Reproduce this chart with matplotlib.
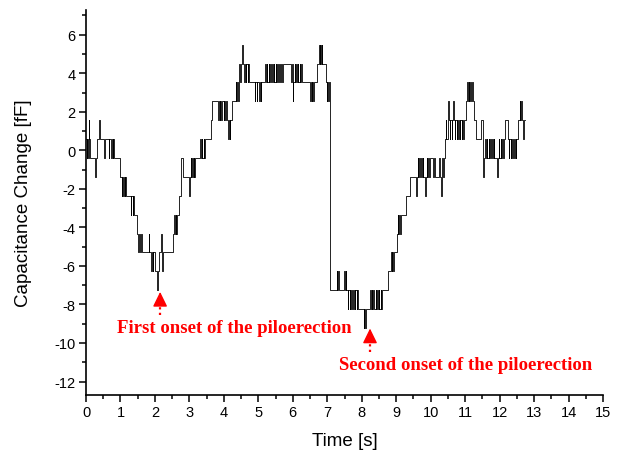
import numpy as np
import matplotlib
matplotlib.use("Agg")
import matplotlib.pyplot as plt
from matplotlib.ticker import MultipleLocator

plt.rcParams['font.family'] = ['Liberation Sans', 'DejaVu Sans']
plt.rcParams['axes.unicode_minus'] = False

# capacitance trace: (start time [s], level [fF]) of each step
seg1 = [(0.00, 0.58), (0.02, -0.40), (0.04, 0.58), (0.06, -0.40), (0.08, 1.56), (0.10, 0.58),
        (0.13, -0.40), (0.27, -1.38), (0.29, -0.40), (0.31, 0.58), (0.39, 1.56), (0.41, 0.58),
        (0.53, -0.40), (0.55, 0.58), (0.66, -0.40), (0.68, 0.58), (0.73, -0.40), (0.745, 0.58),
        (0.78, -0.40), (0.795, 0.58), (0.82, -0.40)]

seg2 = [(0.99, -1.38), (1.03, -2.36), (1.045, -1.38), (1.08, -2.36), (1.095, -1.38),
        (1.13, -2.36), (1.145, -1.38), (1.17, -2.36), (1.30, -3.34), (1.315, -2.36),
        (1.35, -3.34), (1.365, -2.36), (1.39, -3.34), (1.49, -4.32), (1.52, -5.30),
        (1.535, -4.32), (1.57, -5.30), (1.585, -4.32), (1.62, -5.30), (1.82, -4.32),
        (1.84, -5.30), (1.89, -6.28), (1.905, -5.30), (1.94, -6.28), (1.955, -5.30),
        (1.99, -6.28), (2.07, -7.26), (2.10, -6.28), (2.12, -5.30), (2.19, -4.32),
        (2.205, -6.28), (2.22, -5.30)]

seg3 = [(2.53, -4.32), (2.56, -3.34), (2.575, -4.32), (2.60, -3.34), (2.615, -4.32),
        (2.64, -3.34), (2.71, -2.36), (2.77, -0.40), (2.80, -1.38), (2.99, -2.36),
        (3.01, -1.38), (3.04, -0.40), (3.055, -1.38), (3.08, -0.40), (3.095, -1.38),
        (3.12, -0.40), (3.135, -1.38), (3.16, -0.40), (3.31, 0.58), (3.325, -0.40),
        (3.36, 0.58), (3.375, -0.40), (3.41, 0.58), (3.425, -0.40), (3.46, 0.58),
        (3.63, 1.56), (3.67, 2.54), (3.82, 1.56), (3.85, 2.54), (3.88, 1.56),
        (3.895, 2.54), (3.93, 1.56), (3.945, 2.54), (3.99, 1.56), (4.005, 2.54),
        (4.04, 1.56), (4.055, 2.54), (4.09, 1.56), (4.12, 0.58), (4.135, 1.56),
        (4.17, 0.58), (4.185, 1.56), (4.23, 2.54), (4.35, 3.52), (4.365, 2.54),
        (4.39, 3.52), (4.405, 2.54), (4.43, 3.52), (4.45, 4.50), (4.48, 3.52),
        (4.495, 4.50), (4.53, 5.48), (4.55, 4.50)]

seg4 = [(4.59, 3.52), (4.605, 4.50), (4.64, 3.52), (4.655, 4.50), (4.69, 3.52),
        (4.705, 4.50), (4.74, 3.52), (4.89, 2.54), (4.905, 3.52), (4.95, 2.54),
        (4.965, 3.52), (5.02, 2.54), (5.035, 3.52), (5.07, 2.54), (5.085, 3.52),
        (5.20, 4.50), (5.215, 3.52), (5.25, 4.50), (5.265, 3.52), (5.30, 4.50),
        (5.315, 3.52), (5.35, 4.50), (5.365, 3.52), (5.40, 4.50), (5.415, 3.52),
        (5.45, 4.50), (5.465, 3.52), (5.50, 4.50), (5.515, 3.52), (5.55, 4.50),
        (5.565, 3.52), (5.60, 4.50), (5.615, 3.52), (5.66, 4.50), (5.675, 3.52),
        (5.72, 4.50), (5.95, 3.52), (5.97, 4.50), (6.00, 2.54), (6.02, 3.52),
        (6.05, 4.50), (6.065, 3.52), (6.10, 4.50), (6.115, 3.52), (6.15, 4.50),
        (6.165, 3.52), (6.20, 4.50), (6.215, 3.52), (6.25, 4.50), (6.265, 3.52),
        (6.50, 2.54), (6.515, 3.52), (6.55, 2.54), (6.565, 3.52), (6.60, 2.54),
        (6.615, 3.52), (6.70, 4.50), (6.76, 5.48), (6.775, 4.50), (6.80, 5.48),
        (6.815, 4.50), (6.84, 5.48), (6.855, 4.50), (6.95, 3.52), (6.99, 2.54),
        (7.005, 3.52), (7.03, 2.54), (7.045, 3.52), (7.07, 2.54)]

seg5 = [(7.09, -7.26), (7.27, -6.28), (7.29, -7.26), (7.31, -6.28), (7.33, -7.26),
        (7.48, -6.28), (7.50, -7.26), (7.53, -6.28), (7.55, -7.26), (7.60, -8.24),
        (7.615, -7.26), (7.65, -8.24), (7.665, -7.26), (7.70, -8.24), (7.715, -7.26),
        (7.75, -8.24), (7.765, -7.26), (7.80, -8.24), (7.815, -7.26), (7.85, -8.24),
        (7.865, -7.26), (7.90, -8.24), (8.06, -9.22), (8.08, -8.24), (8.10, -9.22),
        (8.13, -8.24), (8.24, -7.26), (8.255, -8.24), (8.29, -7.26), (8.305, -8.24),
        (8.34, -7.26), (8.355, -8.24), (8.40, -7.26), (8.415, -8.24), (8.45, -7.26),
        (8.465, -8.24), (8.50, -7.26), (8.515, -8.24), (8.55, -7.26), (8.565, -8.24),
        (8.60, -7.26)]

seg6 = [(8.77, -6.28), (8.85, -5.30), (8.865, -6.28), (8.89, -5.30), (8.905, -6.28),
        (8.93, -5.30), (9.01, -4.32), (9.05, -3.34), (9.065, -4.32), (9.09, -3.34),
        (9.105, -4.32), (9.13, -3.34), (9.27, -2.36), (9.40, -1.38), (9.58, -2.36),
        (9.60, -1.38), (9.62, -0.40), (9.635, -1.38), (9.67, -0.40), (9.685, -1.38),
        (9.72, -0.40), (9.735, -1.38), (9.77, -0.40), (9.785, -1.38), (9.84, -2.36),
        (9.86, -1.38), (9.88, -0.40), (9.895, -1.38), (9.93, -0.40), (9.945, -1.38),
        (9.98, -0.40), (10.08, -1.38), (10.10, -0.40), (10.13, -1.38), (10.25, -0.40),
        (10.27, -1.38), (10.30, -2.36), (10.32, -1.38), (10.34, -0.40), (10.355, -1.38),
        (10.38, -0.40), (10.41, 0.58), (10.44, 1.56), (10.455, 0.58), (10.49, 1.56),
        (10.51, 2.54), (10.53, 1.56), (10.56, 0.58), (10.575, 1.56), (10.61, 0.58),
        (10.625, 1.56), (10.65, 2.54), (10.67, 1.56), (10.70, 0.58), (10.715, 1.56),
        (10.75, 0.58), (10.765, 1.56), (10.80, 0.58), (10.815, 1.56)]

seg7 = [(10.85, 0.58), (10.865, 1.56), (10.90, 0.58), (10.915, 1.56), (10.95, 0.58),
        (10.965, 1.56), (11.03, 2.54), (11.06, 3.52), (11.075, 2.54), (11.10, 3.52),
        (11.115, 2.54), (11.15, 3.52), (11.165, 2.54), (11.20, 3.52), (11.215, 2.54),
        (11.26, 1.56), (11.31, 0.58), (11.45, 1.56), (11.51, -0.40), (11.53, -1.38),
        (11.55, -0.40), (11.58, 0.58), (11.595, -0.40), (11.63, 0.58), (11.645, -0.40),
        (11.68, 0.58), (11.695, -0.40), (11.73, 0.58), (11.745, -0.40), (11.78, 0.58),
        (11.795, -0.40), (11.83, 0.58), (11.845, -0.40), (11.92, -1.38), (11.95, -0.40),
        (11.98, 0.58), (11.995, -0.40), (12.03, 0.58), (12.045, -0.40), (12.08, 0.58),
        (12.095, -0.40), (12.12, 0.58), (12.15, 1.56), (12.25, 0.58), (12.27, -0.40),
        (12.285, 0.58), (12.32, -0.40), (12.335, 0.58), (12.37, -0.40), (12.385, 0.58),
        (12.42, -0.40), (12.435, 0.58), (12.47, -0.40), (12.485, 0.58), (12.53, 1.56),
        (12.58, 2.54), (12.60, 1.56), (12.62, 2.54), (12.65, 1.56), (12.68, 0.58),
        (12.70, 1.56), (12.73, 1.56)]

trace = np.array(seg1 + seg2 + seg3 + seg4 + seg5 + seg6 + seg7)
time_s = trace[:, 0]
cap_fF = trace[:, 1]

# onset annotations
notes = ["First onset of the piloerection", "Second onset of the piloerection"]
note_tip_t = [2.15, 8.24]
note_tip_c = [-7.35, -9.25]
note_tail_c = [-8.55, -10.45]
note_txt_t = [4.31, 11.02]
note_txt_c = [-9.2, -11.1]

fig = plt.figure(figsize=(6.17, 4.56), dpi=100)
ax = fig.add_axes([0.1394, 0.1316, 0.8379, 0.845])

ax.plot(time_s, cap_fF, drawstyle='steps-post', color='black', lw=0.6)

for txt, tt, tc, lc, xt, yc in zip(notes, note_tip_t, note_tip_c, note_tail_c, note_txt_t, note_txt_c):
    head_base = tc - 0.5
    # dotted shaft
    ax.plot([tt, tt], [lc, head_base], color='red', lw=1.6, linestyle=(0, (1, 1.5)))
    # solid filled head
    ax.annotate('', xy=(tt, tc), xytext=(tt, head_base),
                arrowprops=dict(arrowstyle='-|>,head_length=0.45,head_width=0.22',
                                mutation_scale=20, color='red', lw=1.0,
                                shrinkA=0, shrinkB=0))
    ax.text(xt, yc, txt, color='red', fontsize=13.5, fontweight='bold',
            family='Liberation Serif', ha='center', va='center')

ax.set_xlim(0, 15)
ax.set_ylim(-12.7, 7.3)
ax.xaxis.set_major_locator(MultipleLocator(1))
ax.xaxis.set_minor_locator(MultipleLocator(0.5))
ax.yaxis.set_major_locator(MultipleLocator(2))
ax.yaxis.set_minor_locator(MultipleLocator(1))
ax.tick_params(which='major', direction='out', length=5, width=1.1, labelsize=10.5, pad=2.5)
ax.tick_params(which='minor', direction='out', length=3, width=1.1)

for s in ['top', 'right']:
    ax.spines[s].set_visible(False)
for s in ['left', 'bottom']:
    ax.spines[s].set_linewidth(1.2)

ax.set_xlabel('Time [s]', fontsize=13.5, labelpad=9)
ax.set_ylabel('Capacitance Change [fF]', fontsize=13.5, labelpad=16)

fig.savefig('out.png', dpi=100)
